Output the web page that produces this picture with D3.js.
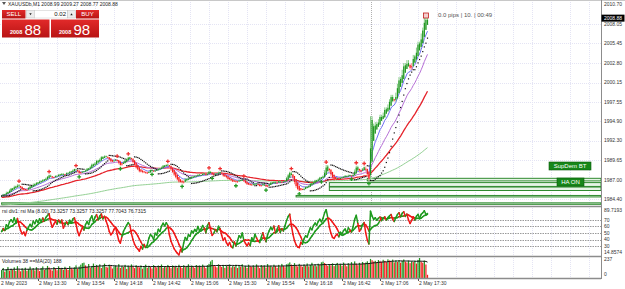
<!doctype html>
<html lang="en">
<head>
<meta charset="utf-8">
<title>XAUUSDb,M1</title>
<style>
  body { margin: 0; background: #fff; }
  #chart { width: 625px; height: 289px; }
  text { font-family: "Liberation Sans", Arial, sans-serif; }
</style>
</head>
<body>
<div id="chart"></div>
<script src="https://cdnjs.cloudflare.com/ajax/libs/d3/7.8.5/d3.min.js"></script>
<script>
// M1 closes, 2 May 2023 13:07 -> 17:36
const closes = [
  1984.9, 1985.1, 1985.0, 1985.4, 1985.3, 1985.7, 1985.9, 1985.8, 1986.2, 1986.0,
  1986.4, 1986.1, 1985.8, 1985.6, 1985.7, 1985.5, 1985.8, 1986.0, 1986.2, 1986.1,
  1986.5, 1986.4, 1986.7, 1986.6, 1986.9, 1986.8, 1987.1, 1987.0, 1987.3, 1987.5,
  1987.7, 1987.4, 1987.2, 1987.4, 1987.6, 1987.5, 1987.8, 1987.7, 1987.9, 1987.6,
  1987.8, 1988.0, 1987.9, 1988.2, 1988.1, 1988.4, 1988.5, 1988.3, 1988.0, 1987.8,
  1988.0, 1988.2, 1988.1, 1988.4, 1988.6, 1988.5, 1988.9, 1989.2, 1989.0, 1989.4,
  1989.7, 1989.5, 1989.9, 1990.2, 1990.0, 1990.3, 1990.1, 1989.9, 1989.6, 1989.4,
  1989.5, 1989.7, 1989.8, 1989.5, 1989.1, 1988.9, 1989.2, 1989.5, 1989.7, 1989.9,
  1990.1, 1990.0, 1989.6, 1989.2, 1988.8, 1988.5, 1988.3, 1988.0, 1988.2, 1987.9,
  1988.1, 1987.8, 1987.9, 1988.2, 1988.4, 1988.3, 1988.1, 1988.4, 1988.3, 1988.6,
  1988.5, 1988.8, 1989.0, 1988.9, 1989.1, 1989.0, 1988.6, 1988.2, 1987.9, 1987.5,
  1987.2, 1986.9, 1986.6, 1986.8, 1986.5, 1986.9, 1987.2, 1987.0, 1987.3, 1987.2,
  1987.5, 1987.4, 1987.6, 1987.5, 1987.8, 1987.6, 1987.7, 1987.9, 1987.8, 1987.6,
  1988.0, 1988.2, 1987.9, 1987.6, 1987.7, 1987.9, 1987.8, 1988.1, 1988.0, 1987.7,
  1987.4, 1987.5, 1987.2, 1987.0, 1987.1, 1986.8, 1986.7, 1986.9, 1986.6, 1986.8,
  1987.0, 1986.9, 1987.1, 1986.7, 1986.5, 1986.3, 1986.4, 1986.2, 1986.5, 1986.3,
  1986.6, 1986.4, 1986.2, 1986.1, 1986.3, 1986.5, 1986.2, 1986.0, 1986.3, 1986.5,
  1986.7, 1986.6, 1986.8, 1986.5, 1986.7, 1986.9, 1986.6, 1986.8, 1986.7, 1987.0,
  1987.4, 1987.8, 1988.1, 1987.6, 1987.0, 1986.4, 1985.9, 1985.6, 1985.5, 1985.8,
  1985.6, 1985.9, 1986.1, 1986.0, 1986.3, 1986.6, 1986.5, 1986.8, 1987.0, 1986.9,
  1987.2, 1987.4, 1987.3, 1987.6, 1988.3, 1989.0, 1988.6, 1988.0, 1987.5, 1987.1,
  1987.0, 1987.2, 1987.3, 1987.1, 1987.4, 1987.3, 1987.5, 1987.6, 1987.4, 1987.7,
  1987.6, 1987.5, 1987.8, 1988.4, 1988.9, 1988.5, 1988.0, 1988.2, 1988.6, 1988.8,
  1988.1, 1987.4, 1986.9, 1995.6, 1994.6, 1993.9, 1994.8, 1994.3, 1995.2, 1995.8,
  1995.2, 1996.1, 1996.8, 1996.3, 1997.2, 1997.9, 1998.5, 1997.9, 1997.6, 1998.8,
  2000.0, 2000.9, 2000.4, 2001.9, 2002.8, 2002.2, 2003.2, 2002.4, 2001.9, 2002.8,
  2003.9, 2003.5, 2004.9, 2005.7, 2005.2, 2006.8, 2007.6, 2008.9, 2008.4, 2008.88
];
const firstOpen = 1984.8;

// tick volumes per bar
const volumes = [
  92, 118, 75, 104, 131, 88, 110, 97, 126, 84,
  140, 101, 79, 115, 93, 122, 86, 108, 134, 99,
  117, 90, 128, 105, 82, 119, 137, 96, 112, 143,
  124, 101, 88, 130, 115, 92, 139, 107, 121, 98,
  133, 110, 95, 141, 118, 104, 127, 150, 112, 136,
  158, 176, 182, 149, 131, 166, 120, 143, 171, 128,
  155, 139, 162, 118, 147, 170, 133, 125, 158, 141,
  112, 136, 150, 127, 164, 119, 142, 131, 156, 108,
  147, 129, 161, 138, 117, 152, 134, 126, 149, 110,
  137, 158, 121, 144, 130, 113, 153, 139, 124, 148,
  135, 160, 119, 142, 127, 155, 138, 116, 149, 131,
  144, 122, 157, 136, 118, 151, 129, 140, 163, 125,
  146, 133, 120, 154, 137, 148, 128, 159, 141, 117,
  152, 168, 196, 214, 150, 139, 126, 162, 144, 131,
  155, 120, 147, 138, 160, 125, 142, 134, 157, 119,
  148, 136, 163, 129, 145, 121, 158, 140, 133, 150,
  127, 161, 143, 118, 154, 137, 149, 124, 165, 139,
  146, 130, 158, 142, 121, 156, 135, 167, 144, 128,
  162, 171, 185, 159, 140, 176, 152, 137, 168, 149,
  133, 160, 145, 172, 138, 155, 181, 147, 163, 139,
  170, 154, 186, 194, 177, 158, 143, 166, 150, 174,
  141, 162, 179, 153, 168, 146, 183, 160, 139, 175,
  157, 188, 164, 197, 171, 152, 180, 166, 190, 174,
  183, 198, 176, 226, 211, 195, 204, 187, 213, 199,
  192, 216, 203, 188, 221, 207, 196, 218, 185, 209,
  190, 212, 181, 202, 220, 195, 184, 207, 176, 198,
  189, 204, 171, 215, 237, 193, 181, 207, 160, 38
];

const startTime = new Date(2023, 4, 2, 13, 7);
const timeTicks = ['13:30', '13:54', '14:18', '14:42', '15:06', '15:30', '15:54', '16:18', '16:42', '17:06', '17:30'];
const priceTicks = [2010.70, 2008.05, 2005.45, 2002.80, 2000.15, 1997.55, 1994.90, 1992.30, 1989.65, 1987.00, 1984.40];
const lastPrice = 2008.88;
const rsiLevels = [70, 60, 50, 40, 30];
const rsiRange = [14.8574, 89.7193];
const volMax = 237;

// moving averages: period, seed value, colour
const maPeriods = [8, 21, 50, 200];
const maSeeds = [1984.9, 1984.8, 1984.6, 1983.55];
const maColors = ['#6f6ff2', '#b66fd6', '#e5232b', '#93d093'];

// swing markers (bar index)
const redMarks = [11, 30, 47, 73, 80, 105, 131, 138, 153, 183, 205, 224, 229];
const greenMarks = [49, 75, 95, 114, 133, 148, 167, 188, 202, 221, 232];

// supply/demand zones
const zoneFrom = ['16:58', '16:34', '16:34', '16:13', '13:07'];
const zoneHi = [1987.20, 1986.62, 1986.02, 1984.88, 1983.88];
const zoneLo = [1986.85, 1986.10, 1985.55, 1984.68, 1983.68];

const newsTime = '17:00';

// layout
const W = 625, H = 289;
const plotRight = 601;
const mainBottom = 206, rsiTop = 207, rsiBottom = 256, volTop = 257, volBottom = 278;

const atTime = s => { const [h, m] = s.split(':'); return new Date(2023, 4, 2, +h, +m); };

const svg = d3.select('#chart').append('svg')
  .attr('width', W).attr('height', H)
  .style('display', 'block');

const n = closes.length;
const x = d3.scaleTime()
  .domain([startTime, d3.timeMinute.offset(startTime, n - 1)])
  .range([1.6, 1.6 + (n - 1) * 1.5833]);
const xi = i => x(d3.timeMinute.offset(startTime, i));
const y = d3.scaleLinear().domain([1984.40, 2010.70]).range([199, 4.7]);
const yRsi = d3.scaleLinear().domain(rsiRange).range([rsiBottom, rsiTop]);
const yVol = d3.scaleLinear().domain([0, volMax]).range([volBottom, volTop + 1]);

// ---- indicators derived from the closes ----
const opens = closes.map((c, i) => i === 0 ? firstOpen : closes[i - 1]);
const haO = [], haC = [], haH = [], haL = [];
closes.forEach((c, i) => {
  const o = opens[i], hi = Math.max(o, c), lo = Math.min(o, c);
  haC[i] = (o + hi + lo + c) / 4;
  haO[i] = i === 0 ? o : (haO[i - 1] + haC[i - 1]) / 2;
  haH[i] = Math.max(hi, haO[i], haC[i]);
  haL[i] = Math.min(lo, haO[i], haC[i]);
});

const emas = maPeriods.map((p, k) => {
  const a = 2 / (p + 1);
  let e = maSeeds[k];
  return closes.map(c => (e = e + a * (c - e)));
});

// parabolic SAR on HA bars
const sar = [];
{
  let up = true, s = haL[0], ep = haH[0], af = 0.02;
  sar[0] = s;
  for (let i = 1; i < n; i++) {
    s = s + af * (ep - s);
    if (up) {
      s = Math.min(s, haL[i - 1], haL[Math.max(i - 2, 0)]);
      if (haL[i] < s) { up = false; s = ep; ep = haL[i]; af = 0.02; }
      else if (haH[i] > ep) { ep = haH[i]; af = Math.min(af + 0.02, 0.2); }
    } else {
      s = Math.max(s, haH[i - 1], haH[Math.max(i - 2, 0)]);
      if (haH[i] > s) { up = true; s = ep; ep = haH[i]; af = 0.02; }
      else if (haL[i] < ep) { ep = haL[i]; af = Math.min(af + 0.02, 0.2); }
    }
    sar[i] = s;
  }
}

// RSI(8) and its MA(8)
const rsiPeriod = 8;
const rsi = [];
{
  let ag = 0.15, al = 0.15;
  closes.forEach((c, i) => {
    const ch = c - opens[i];
    ag = (ag * (rsiPeriod - 1) + Math.max(ch, 0)) / rsiPeriod;
    al = (al * (rsiPeriod - 1) + Math.max(-ch, 0)) / rsiPeriod;
    rsi.push(100 - 100 / (1 + ag / al));
  });
}
const rsiMa = rsi.map((v, i) => d3.mean(rsi.slice(Math.max(0, i - 7), i + 1)));
const volMa = volumes.map((v, i) => d3.mean(volumes.slice(Math.max(0, i - 19), i + 1)));

// ---- clips ----
const defs = svg.append('defs');
defs.append('clipPath').attr('id', 'clipMain').append('rect')
  .attr('x', 0).attr('y', 0).attr('width', plotRight).attr('height', mainBottom);
defs.append('clipPath').attr('id', 'clipRsi').append('rect')
  .attr('x', 0).attr('y', rsiTop).attr('width', plotRight).attr('height', rsiBottom - rsiTop);
defs.append('clipPath').attr('id', 'clipVol').append('rect')
  .attr('x', 0).attr('y', volTop).attr('width', plotRight).attr('height', volBottom - volTop);

// ---- grid ----
const gridTimes = d3.timeMinute.range(atTime('13:18'), atTime('19:30'), 12).filter(t => x(t) < plotRight - 1);
const grid = svg.append('g').attr('stroke', '#e4e4f4').attr('stroke-dasharray', '1,1').attr('stroke-width', 1);
grid.selectAll('line.v').data(gridTimes).join('line')
  .attr('x1', d => Math.round(x(d)) + 0.5).attr('x2', d => Math.round(x(d)) + 0.5)
  .attr('y1', 0).attr('y2', volBottom);
grid.selectAll('line.h').data(priceTicks.slice(1)).join('line')
  .attr('x1', 0).attr('x2', plotRight)
  .attr('y1', d => Math.round(y(d)) + 0.5).attr('y2', d => Math.round(y(d)) + 0.5);

// RSI levels
svg.append('g').selectAll('line').data(rsiLevels).join('line')
  .attr('x1', 0).attr('x2', plotRight)
  .attr('y1', d => Math.round(yRsi(d)) + 0.5).attr('y2', d => Math.round(yRsi(d)) + 0.5)
  .attr('stroke', '#9a9a9a').attr('stroke-dasharray', '1.5,1');

// ---- main panel ----
const main = svg.append('g').attr('clip-path', 'url(#clipMain)');

// news separator
main.append('line')
  .attr('x1', Math.round(x(atTime(newsTime))) + 0.5).attr('x2', Math.round(x(atTime(newsTime))) + 0.5)
  .attr('y1', 0).attr('y2', mainBottom)
  .attr('stroke', '#b0b0b0').attr('stroke-dasharray', '1,1');

// zones
const zones = zoneFrom.map((f, k) => ({ from: atTime(f), hi: zoneHi[k], lo: zoneLo[k] }));
main.append('g').selectAll('rect').data(zones).join('rect')
  .attr('x', d => x(d.from)).attr('width', d => plotRight - x(d.from))
  .attr('y', d => y(d.hi)).attr('height', d => Math.max(1.2, y(d.lo) - y(d.hi)))
  .attr('fill', '#e6f4e6').attr('stroke', '#2f8a2f').attr('stroke-width', 1);

// moving averages
emas.slice().reverse().forEach((e, k) => {
  const idx = emas.length - 1 - k;
  main.append('path')
    .datum(e)
    .attr('fill', 'none')
    .attr('stroke', maColors[idx])
    .attr('stroke-width', idx === 2 ? 1.3 : 1)
    .attr('d', d3.line().x((d, i) => xi(i)).y(d => y(d)));
});

// HA candles
const bars = d3.range(n);
const up = i => haC[i] >= haO[i];
main.append('g').selectAll('line').data(bars).join('line')
  .attr('x1', i => xi(i)).attr('x2', i => xi(i))
  .attr('y1', i => y(haH[i])).attr('y2', i => y(haL[i]))
  .attr('stroke', i => up(i) ? '#86cc86' : '#ff8c8c').attr('stroke-width', 1);
main.append('g').selectAll('rect').data(bars).join('rect')
  .attr('x', i => xi(i) - 0.6).attr('width', 1.2)
  .attr('y', i => y(Math.max(haO[i], haC[i])))
  .attr('height', i => Math.max(1, Math.abs(y(haO[i]) - y(haC[i]))))
  .attr('fill', i => up(i) ? '#1f961f' : '#f41c1c');

// parabolic SAR
main.append('g').selectAll('rect').data(bars).join('rect')
  .attr('x', i => xi(i) - 0.6).attr('y', i => y(sar[i]) - 0.6)
  .attr('width', 1.2).attr('height', 1.2).attr('fill', '#111');

// swing markers
const cross = d3.symbol(d3.symbolCross, 8);
main.append('g').selectAll('path').data(redMarks).join('path')
  .attr('d', cross).attr('transform', i => `translate(${xi(i)},${y(haH[i]) - 3})`).attr('fill', '#f03030');
main.append('g').selectAll('path').data(greenMarks).join('path')
  .attr('d', cross).attr('transform', i => `translate(${xi(i)},${y(haL[i]) + 3})`).attr('fill', '#239b23');

// high box on last bar
main.append('rect')
  .attr('x', xi(n - 2) - 2.5).attr('y', y(haH[n - 2]) - 5).attr('width', 5).attr('height', 5)
  .attr('fill', '#f4d0d0').attr('stroke', '#c02020').attr('stroke-width', 0.8);

// ---- RSI panel ----
const rsiG = svg.append('g').attr('clip-path', 'url(#clipRsi)');
const segColor = i => rsi[i] >= rsiMa[i] ? '#1e9a1e' : '#f01818';
[rsiMa, rsi].forEach(series => {
  rsiG.append('g').selectAll('line').data(bars.slice(1)).join('line')
    .attr('x1', i => xi(i - 1)).attr('x2', i => xi(i))
    .attr('y1', i => yRsi(series[i - 1])).attr('y2', i => yRsi(series[i]))
    .attr('stroke', segColor).attr('stroke-width', 1.5).attr('stroke-linecap', 'round');
});

// ---- volume panel ----
const volG = svg.append('g').attr('clip-path', 'url(#clipVol)');
volG.append('g').selectAll('rect').data(bars).join('rect')
  .attr('x', i => xi(i) - 0.6).attr('width', 1.2)
  .attr('y', i => yVol(volumes[i])).attr('height', i => volBottom - yVol(volumes[i]))
  .attr('fill', i => (i === 0 || volumes[i] > volumes[i - 1]) ? '#1f961f' : '#f41c1c');
volG.append('path').datum(volMa)
  .attr('fill', 'none').attr('stroke', '#111').attr('stroke-width', 1)
  .attr('d', d3.line().x((d, i) => xi(i)).y(d => yVol(d)));

// ---- frame ----
const frame = svg.append('g').attr('stroke', '#8c8c8c');
frame.append('line').attr('x1', 0).attr('x2', W).attr('y1', 0.5).attr('y2', 0.5).attr('stroke', '#c8c8c8');
[mainBottom + 0.5, rsiBottom + 0.5, volBottom + 0.5].forEach(v => {
  frame.append('line').attr('x1', 0).attr('x2', plotRight).attr('y1', v).attr('y2', v).attr('stroke-width', 1.5);
});
frame.append('line').attr('x1', plotRight + 0.5).attr('x2', plotRight + 0.5).attr('y1', 0).attr('y2', volBottom + 1);

// ---- axes text ----
const axisText = svg.append('g').attr('font-size', 5).attr('fill', '#333');
axisText.selectAll('text.p').data(priceTicks).join('text')
  .attr('x', plotRight + 3).attr('y', d => y(d)).attr('dy', '0.35em').text(d => d.toFixed(2));
svg.append('rect').attr('x', plotRight + 0.5).attr('y', y(lastPrice) - 3.5).attr('width', 23).attr('height', 7).attr('fill', '#000');
svg.append('text').attr('x', plotRight + 3).attr('y', y(lastPrice)).attr('dy', '0.35em')
  .attr('font-size', 5).attr('fill', '#fff').text(lastPrice.toFixed(2));

axisText.selectAll('text.r').data(rsiLevels).join('text')
  .attr('x', plotRight + 3).attr('y', d => yRsi(d)).attr('dy', '0.35em').text(d => d);
axisText.append('text').attr('x', plotRight + 3).attr('y', rsiTop + 3.5).attr('dy', '0.35em').text(rsiRange[1].toFixed(4));
axisText.append('text').attr('x', plotRight + 3).attr('y', rsiBottom - 4).attr('dy', '0.35em').text(rsiRange[0].toFixed(4));
axisText.append('text').attr('x', plotRight + 3).attr('y', volTop + 2.5).attr('dy', '0.35em').text(volMax);
axisText.append('text').attr('x', plotRight + 3).attr('y', volBottom - 4).attr('dy', '0.35em').text(0);

const tickDates = timeTicks.map(atTime);
axisText.selectAll('line').data(tickDates).join('line')
  .attr('x1', d => Math.round(x(d)) + 0.5).attr('x2', d => Math.round(x(d)) + 0.5)
  .attr('y1', volBottom + 1).attr('y2', volBottom + 3).attr('stroke', '#555');
axisText.selectAll('text.t').data(tickDates).join('text')
  .attr('x', d => x(d) + 1).attr('y', 284.5).text(d => d3.timeFormat('%-d %b %H:%M')(d));
axisText.append('text').attr('x', 1).attr('y', 284.5).text(d3.timeFormat('%-d %b %Y')(startTime));

// ---- panel titles ----
const titles = svg.append('g').attr('font-size', 5).attr('fill', '#222');
titles.append('path').attr('d', 'M2,2 L6,2 L4,5 Z').attr('fill', '#555');
titles.append('text').attr('x', 8).attr('y', 5.5).text('XAUUSDb,M1  2008.99 2009.27 2008.77 2008.88');
titles.append('text').attr('x', 2).attr('y', 212.5).text('rsi div1: rsi Ma (8.00) 73.3257 73.3257 73.3257 77.7043 76.7315');
titles.append('text').attr('x', 2).attr('y', 262.5).text('Volumes 38  ==MA(20) 188');
svg.append('text').attr('x', 438).attr('y', 16.5).attr('font-size', 6).attr('fill', '#555').text('0.0 pips | 10. | 00:49');

// ---- buttons on the chart ----
const btns = [
  { label: 'SupDem BT', x: 549, y: 162, w: 42 },
  { label: 'HA ON', x: 557, y: 178, w: 27 }
];
const bg = svg.append('g').selectAll('g').data(btns).join('g');
bg.append('rect').attr('x', d => d.x).attr('y', d => d.y).attr('width', d => d.w).attr('height', 8)
  .attr('fill', '#17871a').attr('stroke', '#0c5c0c').attr('stroke-width', 0.6);
bg.append('text').attr('x', d => d.x + d.w / 2).attr('y', d => d.y + 4).attr('dy', '0.35em')
  .attr('text-anchor', 'middle').attr('font-size', 6).attr('fill', '#fff').text(d => d.label);

// ---- one click trading panel ----
const grad = defs.append('linearGradient').attr('id', 'redGrad').attr('x1', 0).attr('x2', 0).attr('y1', 0).attr('y2', 1);
grad.append('stop').attr('offset', 0).attr('stop-color', '#e22a2a');
grad.append('stop').attr('offset', 1).attr('stop-color', '#b81414');
const oc = svg.append('g');
oc.append('rect').attr('x', 1.5).attr('y', 9.5).attr('width', 98).attr('height', 28.5).attr('fill', '#fff');
oc.append('rect').attr('x', 2).attr('y', 10).attr('width', 23.5).attr('height', 8.5).attr('fill', 'url(#redGrad)');
oc.append('rect').attr('x', 76).attr('y', 10).attr('width', 23).attr('height', 8.5).attr('fill', 'url(#redGrad)');
oc.append('rect').attr('x', 26.5).attr('y', 10.5).attr('width', 8).attr('height', 7.5).attr('fill', '#ececec').attr('stroke', '#bdbdbd').attr('stroke-width', 0.5);
oc.append('rect').attr('x', 34.5).attr('y', 10.5).attr('width', 33).attr('height', 7.5).attr('fill', '#fff').attr('stroke', '#c8c8c8').attr('stroke-width', 0.5);
oc.append('rect').attr('x', 67.5).attr('y', 10.5).attr('width', 8).attr('height', 7.5).attr('fill', '#ececec').attr('stroke', '#bdbdbd').attr('stroke-width', 0.5);
oc.append('path').attr('d', 'M29.3,13.3 L31.7,13.3 L30.5,15.2 Z').attr('fill', '#222');
oc.append('path').attr('d', 'M70.3,15.2 L72.7,15.2 L71.5,13.3 Z').attr('fill', '#222');
oc.append('text').attr('x', 66).attr('y', 14.3).attr('dy', '0.35em').attr('text-anchor', 'end').attr('font-size', 6).attr('fill', '#111').text('0.02');
oc.append('text').attr('x', 13.8).attr('y', 14.3).attr('dy', '0.35em').attr('text-anchor', 'middle').attr('font-size', 6).attr('fill', '#fff').text('SELL');
oc.append('text').attr('x', 87.5).attr('y', 14.3).attr('dy', '0.35em').attr('text-anchor', 'middle').attr('font-size', 6).attr('fill', '#fff').text('BUY');
oc.append('rect').attr('x', 2).attr('y', 19.5).attr('width', 47.5).attr('height', 18).attr('fill', 'url(#redGrad)');
oc.append('rect').attr('x', 51).attr('y', 19.5).attr('width', 48).attr('height', 18).attr('fill', 'url(#redGrad)');
const quotes = [{ big: '2008', small: '88', x: 10 }, { big: '2008', small: '98', x: 59 }];
quotes.forEach(q => {
  oc.append('text').attr('x', q.x).attr('y', 34).attr('font-size', 5.5).attr('fill', '#fff').attr('font-weight', 'bold').text(q.big);
  oc.append('text').attr('x', q.x + 14.5).attr('y', 35).attr('font-size', 15).attr('fill', '#fff').text(q.small);
});
</script>
</body>
</html>
